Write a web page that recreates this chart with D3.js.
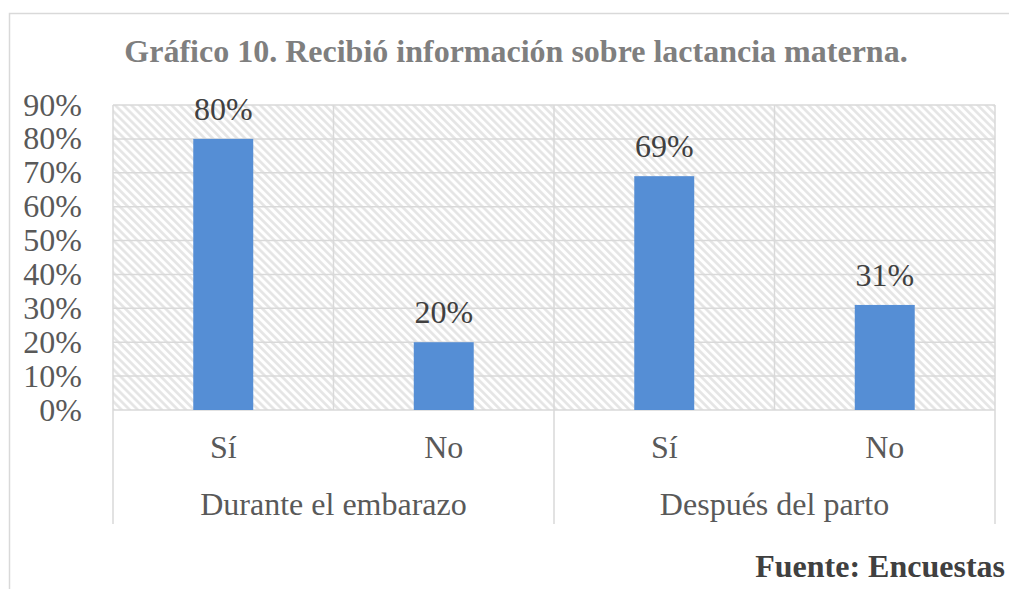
<!DOCTYPE html>
<html lang="es">
  <head>
    <meta charset="utf-8">
    <title>Gráfico 10</title>
    <script src="https://cdn.jsdelivr.net/npm/d3@7"></script>
    <style>
      body { margin: 0; background: #fff; }
    </style>
  </head>
  <body>
    <svg id="chart"></svg>
    <script>
    // DATA
    const groups = ['Durante el embarazo', 'Después del parto'];
    const categories = ['Sí', 'No', 'Sí', 'No'];
    const values = [0.80, 0.20, 0.69, 0.31];
    const yTicks = [0, 0.1, 0.2, 0.3, 0.4, 0.5, 0.6, 0.7, 0.8, 0.9];

    // DIMENSIONS
    const width = 1009, height = 589;
    const plot = { left: 113, right: 995, top: 105, bottom: 410 };
    const serif = '"Liberation Serif", "DejaVu Serif", serif';
    const fs = 32;

    const svg = d3.select('#chart')
      .attr('width', width)
      .attr('height', height)
      .attr('font-family', serif);

    // outer chart border (right/bottom edges fall outside the picture)
    svg.append('rect')
      .attr('x', 9.5).attr('y', 13.5)
      .attr('width', 1010).attr('height', 600)
      .attr('fill', 'none')
      .attr('stroke', '#d9d9d9')
      .attr('stroke-width', 1.5);

    // hatch pattern for plot background
    const defs = svg.append('defs');
    const pat = defs.append('pattern')
      .attr('id', 'hatch')
      .attr('patternUnits', 'userSpaceOnUse')
      .attr('width', 5.7).attr('height', 5.7)
      .attr('patternTransform', 'rotate(-45)');
    pat.append('line')
      .attr('x1', 1.4).attr('y1', 0).attr('x2', 1.4).attr('y2', 5.7)
      .attr('stroke', '#e4e4e4')
      .attr('stroke-width', 2.6);

    // SCALES
    const x = d3.scaleBand()
      .domain(d3.range(categories.length))
      .range([plot.left, plot.right])
      .padding(0);

    const xGroup = d3.scaleBand()
      .domain(d3.range(groups.length))
      .range([plot.left, plot.right]);

    const y = d3.scaleLinear()
      .domain([0, 0.9])
      .range([plot.bottom, plot.top]);

    const barW = x.bandwidth() * 0.272;

    // plot background
    svg.append('rect')
      .attr('x', plot.left).attr('y', plot.top)
      .attr('width', plot.right - plot.left)
      .attr('height', plot.bottom - plot.top)
      .attr('fill', 'url(#hatch)');

    // horizontal gridlines
    svg.append('g')
      .selectAll('line')
      .data(yTicks)
      .join('line')
      .attr('x1', plot.left).attr('x2', plot.right)
      .attr('y1', d => y(d)).attr('y2', d => y(d))
      .attr('stroke', '#d9d9d9')
      .attr('stroke-width', 1.5);

    // vertical gridlines at each category boundary
    svg.append('g')
      .selectAll('line')
      .data(d3.range(categories.length + 1))
      .join('line')
      .attr('x1', d => plot.left + d * x.step())
      .attr('x2', d => plot.left + d * x.step())
      .attr('y1', plot.top).attr('y2', plot.bottom)
      .attr('stroke', '#d9d9d9')
      .attr('stroke-width', 1.5);

    // group tick lines below axis
    svg.append('g')
      .selectAll('line')
      .data(d3.range(groups.length + 1))
      .join('line')
      .attr('x1', d => plot.left + d * xGroup.step())
      .attr('x2', d => plot.left + d * xGroup.step())
      .attr('y1', plot.bottom).attr('y2', 524)
      .attr('stroke', '#d9d9d9')
      .attr('stroke-width', 1.5);

    // bars
    svg.append('g')
      .selectAll('rect')
      .data(values)
      .join('rect')
      .attr('x', (d, i) => x(i) + x.bandwidth() / 2 - barW / 2)
      .attr('y', d => y(d))
      .attr('width', barW)
      .attr('height', d => y(0) - y(d))
      .attr('fill', '#558ed5');

    // data labels
    svg.append('g')
      .selectAll('text')
      .data(values)
      .join('text')
      .text(d => d3.format('.0%')(d))
      .attr('x', (d, i) => x(i) + x.bandwidth() / 2)
      .attr('y', d => y(d) - 19)
      .attr('text-anchor', 'middle')
      .attr('font-size', fs)
      .attr('fill', '#404040');

    // y axis labels
    svg.append('g')
      .selectAll('text')
      .data(yTicks)
      .join('text')
      .text(d => d3.format('.0%')(d))
      .attr('x', 82)
      .attr('y', d => y(d))
      .attr('dy', '0.33em')
      .attr('text-anchor', 'end')
      .attr('font-size', fs)
      .attr('fill', '#595959');

    // category labels
    svg.append('g')
      .selectAll('text')
      .data(categories)
      .join('text')
      .text(d => d)
      .attr('x', (d, i) => x(i) + x.bandwidth() / 2)
      .attr('y', 458)
      .attr('text-anchor', 'middle')
      .attr('font-size', fs)
      .attr('fill', '#595959');

    // group labels
    svg.append('g')
      .selectAll('text')
      .data(groups)
      .join('text')
      .text(d => d)
      .attr('x', (d, i) => xGroup(i) + xGroup.bandwidth() / 2)
      .attr('y', 515)
      .attr('text-anchor', 'middle')
      .attr('font-size', fs)
      .attr('fill', '#595959');

    // title
    svg.append('text')
      .text('Gráfico 10. Recibió información sobre lactancia materna.')
      .attr('x', 516)
      .attr('y', 62)
      .attr('text-anchor', 'middle')
      .attr('font-size', fs)
      .attr('font-weight', 'bold')
      .attr('fill', '#7f7f7f');

    // source
    svg.append('text')
      .text('Fuente: Encuestas')
      .attr('x', 1005)
      .attr('y', 577)
      .attr('text-anchor', 'end')
      .attr('font-size', fs)
      .attr('font-weight', 'bold')
      .attr('fill', '#404040');
    </script>
  </body>
</html>
